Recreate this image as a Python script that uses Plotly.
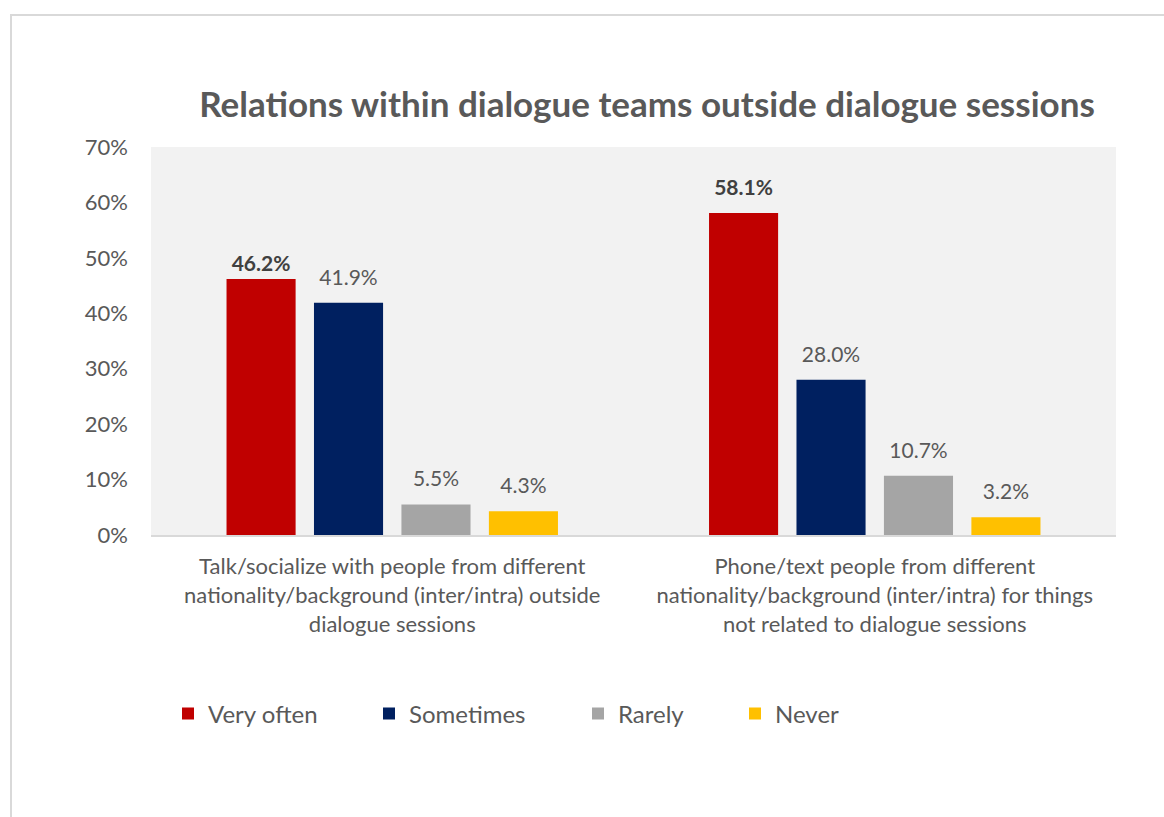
import plotly.graph_objects as go

# Survey categories (x axis) and response shares per answer option
categories = [
    "Talk/socialize with people from different<br>nationality/background (inter/intra) outside<br>dialogue sessions",
    "Phone/text people from different<br>nationality/background (inter/intra) for things<br>not related to dialogue sessions",
]
series_names = ["Very often", "Sometimes", "Rarely", "Never"]
very_often = [46.2, 58.1]
sometimes = [41.9, 28.0]
rarely = [5.5, 10.7]
never = [4.3, 3.2]
y_ticks = [0, 10, 20, 30, 40, 50, 60, 70]

series_values = [very_often, sometimes, rarely, never]
colors = ["#C00000", "#002060", "#A5A5A5", "#FFC000"]
bold_labels = [True, False, False, False]
# label lift above the bar top (invisible marker size); first label sits closer
label_lift = [[2, 19], [19, 19], [19, 19], [19, 19]]

W, H = 1164, 817
L, R, T, B = 151, 1116, 147, 535  # plot area in pixels

FONT = "Lato"
GREY_TXT = "#595959"
GAP = 0.275

fig = go.Figure()
for i, (name, vals, col) in enumerate(zip(series_names, series_values, colors)):
    leg = "legend" if i == 0 else f"legend{i + 1}"
    fig.add_trace(go.Bar(
        x=categories, y=vals, name=name,
        marker=dict(color=col, line=dict(width=0)),
        offsetgroup=f"g{i}", hoverinfo="skip",
        legend=leg,
    ))

# value labels, grouped the same way as the bars
for i, (name, vals) in enumerate(zip(series_names, series_values)):
    if bold_labels[i]:
        txt = [f"<b>{v:.1f}%</b>" for v in vals]
        tcol = "#404040"
    else:
        txt = [f"{v:.1f}%" for v in vals]
        tcol = GREY_TXT
    fig.add_trace(go.Scatter(
        x=categories, y=vals, mode="markers+text", text=txt,
        textposition="top center", offsetgroup=f"g{i}",
        marker=dict(size=label_lift[i], opacity=0),
        textfont=dict(family=FONT, size=21, color=tcol),
        showlegend=False, hoverinfo="skip", cliponaxis=False,
    ))

pw = R - L
ph = B - T
def px_x(x):
    return (x - L) / pw
def px_y(y):
    return (B - y) / ph

# One legend per series so each entry sits at its own horizontal position
legend_x = [182, 383, 592, 749]
legend_cfg = {}
for i, lx in enumerate(legend_x):
    key = "legend" if i == 0 else f"legend{i + 1}"
    legend_cfg[key] = dict(
        x=px_x(lx - 14), y=px_y(714), xanchor="left", yanchor="middle",
        orientation="h", bgcolor="rgba(0,0,0,0)",
        font=dict(family=FONT, size=24, color=GREY_TXT),
        itemwidth=30,
    )

fig.update_layout(
    width=W, height=H,
    margin=dict(l=L, r=W - R, t=T, b=H - B, pad=0),
    paper_bgcolor="white",
    plot_bgcolor="#F2F2F2",
    barmode="group",
    scattermode="group",
    bargap=GAP,
    scattergap=GAP,
    bargroupgap=0.21,
    title=dict(
        text="<b>Relations within dialogue teams outside dialogue sessions</b>",
        xref="container", x=647 / W, xanchor="center",
        yref="container", y=1 - 105 / H, yanchor="middle",
        font=dict(family=FONT, size=35, color=GREY_TXT),
    ),
    xaxis=dict(
        showgrid=False, showline=True, linecolor="#D9D9D9", linewidth=2,
        ticks="", tickfont=dict(family=FONT, size=22, color=GREY_TXT),
        ticklabelstandoff=11, zeroline=False,
    ),
    yaxis=dict(
        range=[0, 70], tickvals=y_ticks, ticktext=[f"{v}%" for v in y_ticks],
        showgrid=False, zeroline=False, showline=False, ticks="",
        tickfont=dict(family=FONT, size=22, color=GREY_TXT),
        ticklabelstandoff=22,
    ),
    showlegend=True,
    **legend_cfg,
    shapes=[dict(
        type="rect", xref="paper", yref="paper",
        x0=px_x(11), x1=px_x(W + 20), y0=px_y(H + 20), y1=px_y(15),
        line=dict(color="#D9D9D9", width=2), fillcolor="rgba(0,0,0,0)",
        layer="below",
    )],
)

fig.write_html("out.html")
